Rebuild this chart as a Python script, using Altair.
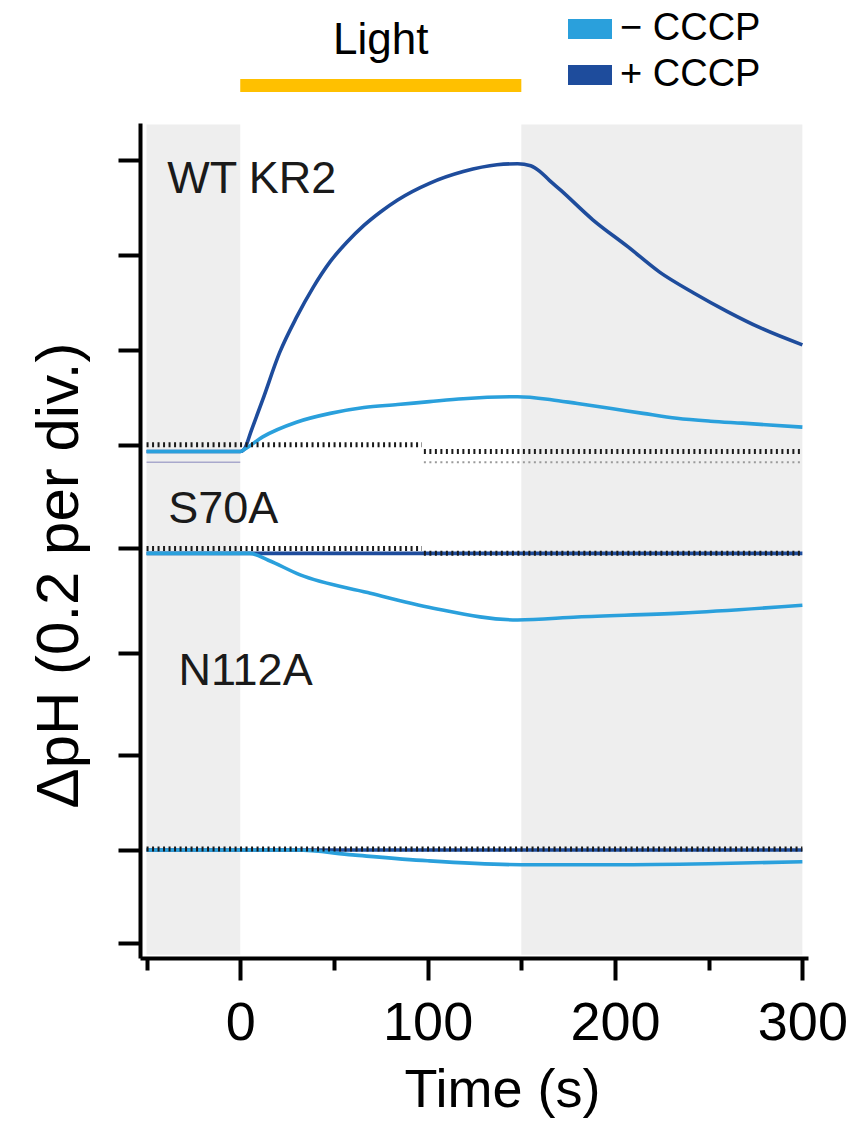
import altair as alt
import pandas as pd

FONT = "Liberation Sans"

# ---------------- data (y in divisions, 1 div = 0.2 pH) ----
# WT KR2, + CCCP
wt_plus_t = [-50, 0, 2, 6, 12, 21, 30, 39, 48, 57, 66, 75, 84, 101, 119, 137, 148,
             155, 160, 165, 171, 188, 207, 224, 242, 260, 278, 300]
wt_plus_v = [5.02, 5.02, 5.04, 5.24, 5.55, 6.03, 6.39, 6.70, 6.96, 7.16, 7.33, 7.47,
             7.59, 7.76, 7.88, 7.95, 7.96, 7.94, 7.88, 7.79, 7.69, 7.39, 7.11, 6.85,
             6.64, 6.45, 6.28, 6.11]
# WT KR2, - CCCP
wt_minus_t = [-50, 0, 2, 12, 30, 48, 66, 84, 101, 119, 148, 166, 180, 198, 215, 233,
              251, 268, 300]
wt_minus_v = [5.02, 5.02, 5.04, 5.17, 5.32, 5.41, 5.47, 5.50, 5.53, 5.56, 5.58, 5.55,
              5.51, 5.46, 5.41, 5.36, 5.33, 5.31, 5.27]
# S70A
s70_plus_t = [-50, 300]
s70_plus_v = [3.98, 3.98]
s70_minus_t = [-50, 0, 5, 15, 32, 68, 103, 148, 180, 235, 300]
s70_minus_v = [3.98, 3.98, 3.98, 3.91, 3.76, 3.58, 3.42, 3.30, 3.33, 3.37, 3.45]
# N112A
n112_plus_t = [-50, 300]
n112_plus_v = [0.95, 0.95]
n112_minus_t = [-50, 30, 60, 100, 150, 200, 250, 300]
n112_minus_v = [0.95, 0.95, 0.90, 0.84, 0.80, 0.80, 0.81, 0.83]

# dotted baselines (start, end, level)
base_t0 = [-50, 98, -50, 98, -50]
base_t1 = [97, 300, 97, 300, 300]
base_v = [5.09, 5.02, 4.03, 3.98, 0.96]
# faint reference traces in the WT panel
faint_t0 = [-50, 98]
faint_t1 = [0, 300]
faint_v = [4.91, 4.91]

panel_labels = ["WT KR2", "S70A", "N112A"]
panel_t = [-39, -38.4, -33]
panel_v = [7.66, 4.29, 2.635]

dark_bands_t0 = [-50, 150]
dark_bands_t1 = [0, 300]
band_v0 = [-0.12, -0.12]
band_v1 = [8.36, 8.36]
light_on = [0, 150]

x_ticks = [-50, 0, 50, 100, 150, 200, 250, 300]
y_ticks = [0, 0.95, 1.92, 2.96, 4.03, 5.09, 6.06, 7.03, 8.0]

conditions = ["\u2212 CCCP", "+ CCCP"]
cond_colors = ["#2AA0DC", "#1E4C9C"]

# ---------------- tables ----------------
def trace(name, cond, ts, vs):
    return pd.DataFrame({"trace": name, "cond": cond, "t": ts, "v": vs})

plus_df = pd.concat([
    trace("wt+", conditions[1], wt_plus_t, wt_plus_v),
    trace("s70+", conditions[1], s70_plus_t, s70_plus_v),
    trace("n112+", conditions[1], n112_plus_t, n112_plus_v),
])
minus_df = pd.concat([
    trace("wt-", conditions[0], wt_minus_t, wt_minus_v),
    trace("s70-", conditions[0], s70_minus_t, s70_minus_v),
    trace("n112-", conditions[0], n112_minus_t, n112_minus_v),
])
base_df = pd.DataFrame({"t0": base_t0, "t1": base_t1, "v": base_v})
faint_df = pd.DataFrame({"t0": faint_t0, "t1": faint_t1, "v": faint_v,
                         "kind": ["solid", "dotted"]})
label_df = pd.DataFrame({"label": panel_labels, "t": panel_t, "v": panel_v})
band_df = pd.DataFrame({"t0": dark_bands_t0, "t1": dark_bands_t1,
                        "v0": band_v0, "v1": band_v1})
light_df = pd.DataFrame({"t0": [light_on[0]], "t1": [light_on[1]],
                         "mid": [(light_on[0] + light_on[1]) / 2], "txt": ["Light"]})

x_scale = alt.Scale(domain=[-53.5, 303], nice=False, zero=False)
y_scale = alt.Scale(domain=[-0.153, 8.376], nice=False, zero=False)
color_scale = alt.Scale(domain=conditions, range=cond_colors)

x_axis = alt.Axis(
    values=x_ticks,
    labelExpr="datum.value % 100 === 0 ? datum.label : ''",
    tickSize={"condition": {"test": "datum.value % 100 === 0", "value": 22}, "value": 12},
    tickWidth=4, tickColor="black", domainWidth=4, domainColor="black",
    labelFont=FONT, labelFontSize=54, labelColor="black", labelPadding=16,
    labelFlush=False, labelOverlap=False, grid=False,
    title="Time (s)", titleFont=FONT, titleFontSize=54, titleFontWeight="normal",
    titleColor="black", titleX=362, titleY=148, titleAlign="center",
    titleBaseline="alphabetic",
)
y_axis = alt.Axis(
    values=y_ticks, labels=False, tickSize=22, tickWidth=4, tickColor="black",
    domainWidth=4, domainColor="black", grid=False,
    title="\u0394pH (0.2 per div.)", titleFont=FONT, titleFontSize=60,
    titleFontWeight="normal", titleColor="black", titleAngle=270,
    titleX=-63, titleY=452, titleAlign="center", titleBaseline="alphabetic",
)

RECT = "M-1.1,-0.5H1.1V0.5H-1.1Z"
legend = alt.Legend(
    orient="none", legendX=430, legendY=-114, title=None,
    symbolType=RECT, symbolSize=1600, symbolStrokeWidth=0, symbolOpacity=1,
    labelFont=FONT, labelFontSize=38, labelColor="black", labelOffset=10,
    rowPadding=7, padding=0,
)


def X(field):
    return alt.X(field, scale=x_scale, axis=x_axis, title="Time (s)")


def Y(field):
    return alt.Y(field, scale=y_scale, axis=y_axis, title="\u0394pH (0.2 per div.)")


def C():
    return alt.Color("cond:N", scale=color_scale, legend=legend)


bands = alt.Chart(band_df).mark_rect(color="#EEEEEE").encode(
    x=X("t0:Q"), x2="t1:Q", y=Y("v0:Q"), y2="v1:Q",
)

# legend carrier: filled rectangles, no rows drawn (all filtered out)
legend_layer = alt.Chart(minus_df).transform_filter("false").mark_point(
    filled=True, shape=RECT, opacity=1, size=1600).encode(
    x=X("t:Q"), y=Y("v:Q"), color=C(),
)

plus_lines = alt.Chart(plus_df).mark_line(strokeWidth=3.6, interpolate="monotone").encode(
    x=X("t:Q"), y=Y("v:Q"), color=C(), detail="trace:N", order="t:Q",
)
minus_lines = alt.Chart(minus_df).mark_line(strokeWidth=3.6, interpolate="monotone").encode(
    x=X("t:Q"), y=Y("v:Q"), color=C(), detail="trace:N", order="t:Q",
)

faint_solid = alt.Chart(faint_df).transform_filter("datum.kind === 'solid'").mark_rule(
    color="#A8A8CC", strokeWidth=1.5).encode(x=X("t0:Q"), x2="t1:Q", y=Y("v:Q"))
faint_dot = alt.Chart(faint_df).transform_filter("datum.kind === 'dotted'").mark_rule(
    color="#9A9A9A", strokeWidth=2, strokeDash=[2, 3.5]).encode(
    x=X("t0:Q"), x2="t1:Q", y=Y("v:Q"))

baselines = alt.Chart(base_df).mark_rule(
    color="#1A1A1A", strokeWidth=5, strokeDash=[2, 3.5]).encode(
    x=X("t0:Q"), x2="t1:Q", y=Y("v:Q"))

labels = alt.Chart(label_df).mark_text(
    font=FONT, fontSize=45, align="left", baseline="alphabetic", color="#1A1A1A").encode(
    x=X("t:Q"), y=Y("v:Q"), text="label:N")

light_bar = alt.Chart(light_df).mark_rule(color="#FFC000", strokeWidth=13).encode(
    x=X("t0:Q"), x2="t1:Q", y=alt.value(-37.5))
light_text = alt.Chart(light_df).mark_text(
    font=FONT, fontSize=44, align="center", baseline="alphabetic", color="black").encode(
    x=X("mid:Q"), y=alt.value(-69), text="txt:N")

chart = alt.layer(
    bands, legend_layer, plus_lines, minus_lines, faint_solid, faint_dot, baselines,
    labels, light_bar, light_text,
).properties(
    width=668, height=835,
    autosize=alt.AutoSizeParams(type="none"),
    padding={"left": 140, "top": 123, "right": 43, "bottom": 175},
    background="white",
).configure_view(stroke=None)

chart.save("out.html", embed_options={"renderer": "svg", "actions": False})
